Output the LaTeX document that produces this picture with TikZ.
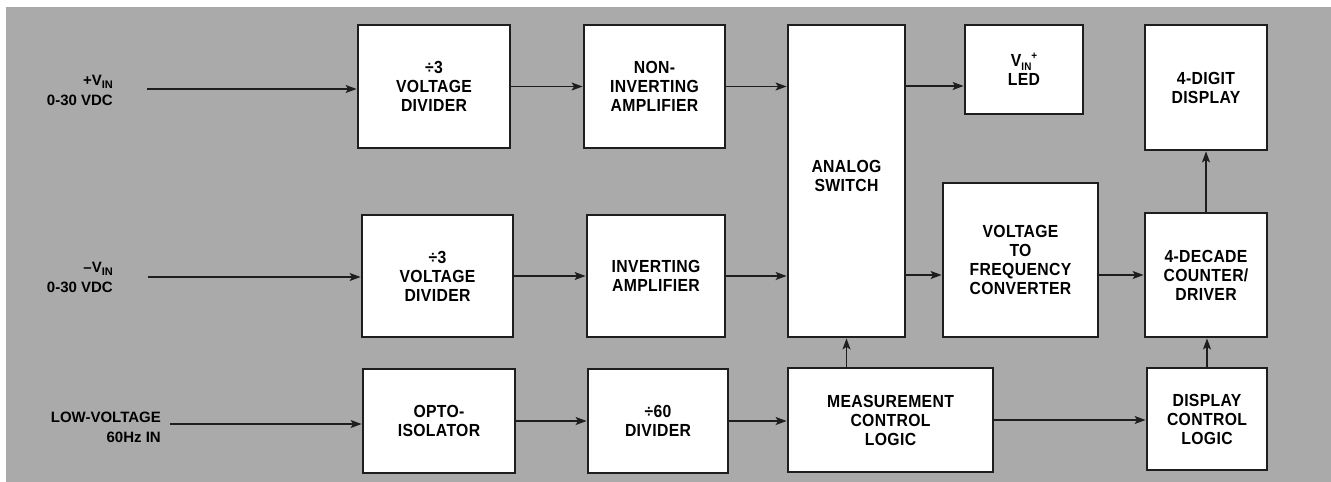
\documentclass[tikz,border=0pt]{standalone}
\usepackage{fontspec}
\setmainfont[FakeStretch=0.9,LetterSpace=2]{Liberation Sans}
\newfontfamily\lblfont{Liberation Sans}
\usetikzlibrary{arrows.meta}
\definecolor{bggray}{RGB}{170,170,170}
\definecolor{ink}{RGB}{30,30,30}
\newcommand\lsub[1]{\raisebox{-0.45ex}{\fontsize{11}{11}\selectfont #1}}
\newcommand\lsup[1]{\raisebox{0.75ex}{\fontsize{11}{11}\selectfont #1}}
\begin{document}
\begin{tikzpicture}[x=1pt,y=-1pt,
  blk/.style={draw=ink, line width=2.8pt, fill=white, inner sep=0pt, align=center,
    font=\fontsize{17.5}{19}\selectfont\bfseries},
  conn/.style={-{Stealth[length=11pt,width=8pt,inset=2.5pt]}, line width=1.4pt, draw=ink},
  lbl/.style={align=right, inner sep=0pt, font=\lblfont\fontsize{15}{20}\selectfont\bfseries}]
\useasboundingbox (0,0) rectangle (1331,482);
\fill[bggray] (6,7) rectangle (1331,482);

% blocks
\node[blk, minimum width=152, minimum height=123] (d1) at (434,86.5) {÷3\\VOLTAGE\\DIVIDER};
\node[blk, minimum width=141, minimum height=123] (nia) at (654.5,86.5) {NON-\\INVERTING\\AMPLIFIER};
\node[blk, minimum width=151, minimum height=122] (d2) at (437.5,276) {÷3\\VOLTAGE\\DIVIDER};
\node[blk, minimum width=138, minimum height=122] (ia) at (656,276) {INVERTING\\AMPLIFIER};
\node[blk, minimum width=152, minimum height=104] (opto) at (439,421) {OPTO-\\ISOLATOR};
\node[blk, minimum width=140, minimum height=104] (d60) at (658,421) {÷60\\DIVIDER};
\node[blk, minimum width=117, minimum height=312] (as) at (846.5,181) {};
\node[align=center, inner sep=0pt, font=\fontsize{17.5}{19}\selectfont\bfseries] (astext) at (846.5,176) {ANALOG\\SWITCH};
\node[blk, minimum width=205, minimum height=104] (mcl) at (890.5,420) {MEASUREMENT\\CONTROL\\LOGIC};
\node[blk, minimum width=118, minimum height=89] (led) at (1024,69.5) {V\lsub{IN}\lsup{+}\\LED};
\node[blk, minimum width=155, minimum height=154] (vf) at (1020.5,260) {VOLTAGE\\TO\\FREQUENCY\\CONVERTER};
\node[blk, minimum width=122, minimum height=125] (dd) at (1206,87.5) {4-DIGIT\\DISPLAY};
\node[blk, minimum width=122, minimum height=124] (cnt) at (1206,275) {4-DECADE\\COUNTER/\\DRIVER};
\node[blk, minimum width=120, minimum height=102] (dcl) at (1207,419) {DISPLAY\\CONTROL\\LOGIC};

% input labels
\node[lbl, anchor=east] (l1) at (113,90) {+V\lsub{IN}\\0-30 VDC};
\node[lbl, anchor=east] (l2) at (113,277) {–V\lsub{IN}\\0-30 VDC};
\node[lbl, anchor=east] (l3) at (161,427) {LOW-VOLTAGE\\60Hz IN};

% input connectors
\coordinate (in1) at (147,89);
\coordinate (in2) at (148,277);
\coordinate (in3) at (170,424);
\draw[conn] (in1) -- (in1 -| d1.west);
\draw[conn] (in2) -- (in2 -| d2.west);
\draw[conn] (in3) -- (in3 -| opto.west);

% signal chain
\draw[conn] (d1.east) -- (nia.west);
\draw[conn] (d2.east) -- (ia.west);
\draw[conn] (opto.east) -- (d60.west);
\draw[conn] (nia.east) -- (nia.east -| as.west);
\draw[conn] (ia.east) -- (ia.east -| as.west);
\draw[conn] (d60.east) -- (d60.east -| mcl.west);
\coordinate (asled) at ([yshift=95pt]as.east);
\draw[conn] (asled) -- (asled -| led.west);
\coordinate (asvf) at ([yshift=-94pt]as.east);
\draw[conn] (asvf) -- (asvf -| vf.west);
\draw[conn] (vf.east |- cnt.west) -- (cnt.west);
\draw[conn] (as.south |- mcl.north) -- (as.south);
\draw[conn] (mcl.east) -- (mcl.east -| dcl.west);
\draw[conn] (dcl.north) -- (dcl.north |- cnt.south);
\draw[conn] (cnt.north) -- (dd.south);
\end{tikzpicture}
\end{document}
